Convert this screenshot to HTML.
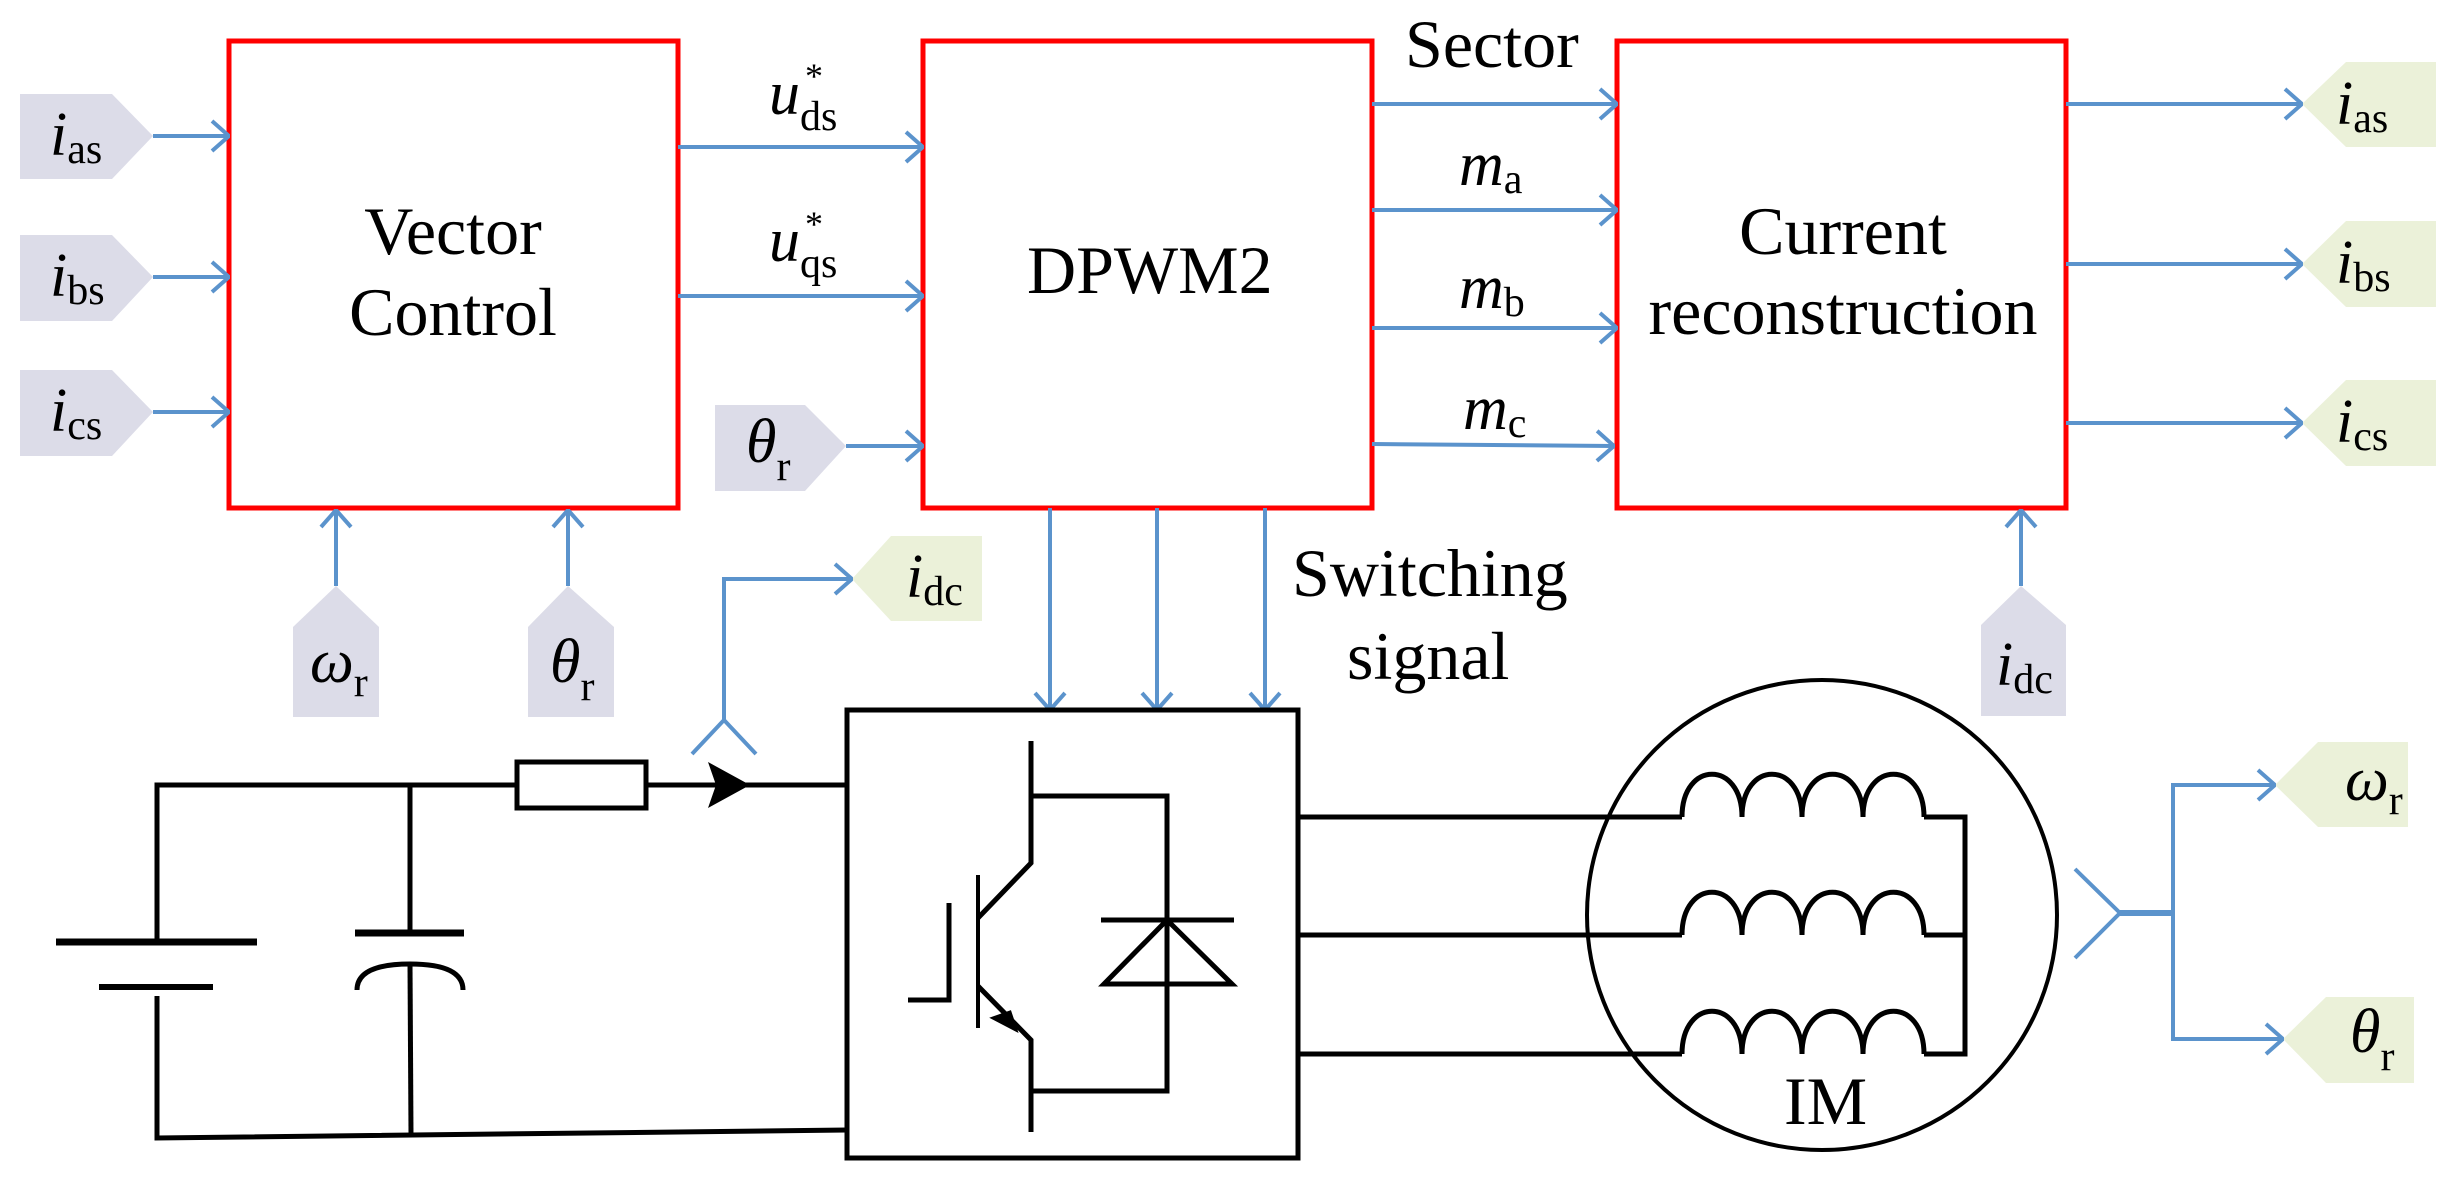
<!DOCTYPE html>
<html><head><meta charset="utf-8"><style>
html,body{margin:0;padding:0;background:#fff;}
svg{display:block;}
svg text{font-family:"Liberation Serif","DejaVu Serif","Times New Roman",serif !important;fill:#000;}
.v{font-style:italic;font-size:62px;}
.s{font-size:42px;font-style:normal;}
.L{font-size:68px;}
</style></head><body>
<svg width="2462" height="1179" viewBox="0 0 2462 1179" xmlns="http://www.w3.org/2000/svg" font-family="Liberation Serif, DejaVu Serif, serif">
<defs>
<marker id="a" viewBox="0 0 20 34" refX="19" refY="17" markerWidth="20" markerHeight="34" markerUnits="userSpaceOnUse" orient="auto">
<path d="M2,2 L19,17 L2,32" fill="none" stroke="#5b93cc" stroke-width="4"/>
</marker>
</defs>
<g fill="none" stroke="#ff0000" stroke-width="5">
<rect x="229" y="41" width="449" height="467"/>
<rect x="923" y="41" width="449" height="467"/>
<rect x="1617" y="41" width="449" height="467"/>
</g>
<g fill="#dcdce8">
<polygon points="20,94 112,94 153,136 112,179 20,179"/>
<polygon points="20,235 112,235 153,277 112,321 20,321"/>
<polygon points="20,370 112,370 153,412 112,456 20,456"/>
<polygon points="715,405 805,405 846,446 805,491 715,491"/>
<polygon points="293,717 293,627 336,586 379,627 379,717"/>
<polygon points="528,717 528,627 568,586 614,627 614,717"/>
<polygon points="1981,716 1981,625 2021,586 2066,625 2066,716"/>
</g>
<g fill="#ebf1d9">
<polygon points="852,579 891,536 982,536 982,621 891,621"/>
<polygon points="2302,104 2346,62 2436,62 2436,147 2346,147"/>
<polygon points="2302,264 2346,221 2436,221 2436,307 2346,307"/>
<polygon points="2302,423 2346,380 2436,380 2436,466 2346,466"/>
<polygon points="2275,785 2318,742 2408,742 2408,827 2318,827"/>
<polygon points="2283,1039 2326,997 2414,997 2414,1083 2326,1083"/>
</g>
<g stroke="#5b93cc" stroke-width="4" fill="none" marker-end="url(#a)">
<line x1="153" y1="136" x2="229" y2="136"/>
<line x1="153" y1="277" x2="229" y2="277"/>
<line x1="153" y1="412" x2="229" y2="412"/>
<line x1="678" y1="147" x2="923" y2="147"/>
<line x1="678" y1="296" x2="923" y2="296"/>
<line x1="846" y1="446" x2="923" y2="446"/>
<line x1="336" y1="586" x2="336" y2="510"/>
<line x1="568" y1="586" x2="568" y2="510"/>
<line x1="2021" y1="586" x2="2021" y2="510"/>
<line x1="1372" y1="104" x2="1617" y2="104"/>
<line x1="1372" y1="210" x2="1617" y2="210"/>
<line x1="1372" y1="328" x2="1617" y2="328"/>
<line x1="1372" y1="444" x2="1614" y2="446"/>
<line x1="2066" y1="104" x2="2302" y2="104"/>
<line x1="2066" y1="264" x2="2302" y2="264"/>
<line x1="2066" y1="423" x2="2302" y2="423"/>
<line x1="1050" y1="508" x2="1050" y2="710"/>
<line x1="1157" y1="508" x2="1157" y2="710"/>
<line x1="1265" y1="508" x2="1265" y2="710"/>
<polyline points="724,720 724,579 852,579"/>
<polyline points="2173,913 2173,785 2275,785"/>
<polyline points="2173,913 2173,1039 2283,1039"/>
</g>
<g stroke="#5b93cc" stroke-width="4" fill="none">
<polyline points="692,754 724,720 756,754"/>
<polyline points="2075,869 2120,913 2075,958"/>
<line x1="2120" y1="913" x2="2173" y2="913" stroke-width="6"/>
</g>
<g stroke="#000" stroke-width="5" fill="none">
<polyline points="847,785 157,785 157,942"/>
<line x1="56" y1="942" x2="257" y2="942" stroke-width="7"/>
<line x1="99" y1="987" x2="213" y2="987" stroke-width="6"/>
<polyline points="157,996 157,1138 847,1130"/>
<line x1="410" y1="785" x2="410" y2="933"/>
<line x1="355" y1="933" x2="464" y2="933" stroke-width="7"/>
<path d="M357,990 Q357,964 410,964 Q463,964 463,990"/>
<line x1="410" y1="964" x2="411" y2="1134"/>
<rect x="517" y="762" width="129" height="46" fill="#fff"/>
<rect x="847" y="710" width="451" height="448" stroke-width="5"/>
<polyline points="1031,741 1031,863 978,918"/>
<line x1="978" y1="875" x2="978" y2="1028" stroke-width="4"/>
<polyline points="908,1000 949,1000 949,903"/>
<polyline points="978,986 1031,1040 1031,1132"/>
<polyline points="1031,796 1167,796 1167,1091 1031,1091"/>
<line x1="1101" y1="920" x2="1234" y2="920"/>
<polygon points="1167,920 1104,984 1232,984"/>
<line x1="1298" y1="817" x2="1682" y2="817"/>
<line x1="1298" y1="935" x2="1682" y2="935"/>
<line x1="1298" y1="1054" x2="1682" y2="1054"/>
<polyline points="1924,817 1965,817 1965,1054 1924,1054"/>
<line x1="1924" y1="935" x2="1965" y2="935"/>
<circle cx="1822" cy="915" r="235" stroke-width="4"/>
</g>
<g stroke="#000" stroke-width="5" fill="none">
<path d="M1682,817 C1682,760 1742,760 1742,817 C1742,760 1802,760 1802,817 C1802,760 1863,760 1863,817 C1863,760 1924,760 1924,817"/>
<path d="M1682,935 C1682,878 1742,878 1742,935 C1742,878 1802,878 1802,935 C1802,878 1863,878 1863,935 C1863,878 1924,878 1924,935"/>
<path d="M1682,1054 C1682,997 1742,997 1742,1054 C1742,997 1802,997 1802,1054 C1802,997 1863,997 1863,1054 C1863,997 1924,997 1924,1054"/>
</g>
<polygon points="708,762 750,785 708,808 716,785" fill="#000"/>
<polygon points="1016,1030 993,1018 1010,1012" fill="#000" stroke="#000" stroke-width="3"/>
<g font-family="Liberation Serif, DejaVu Serif, serif">
<text class="L" x="453" y="254" text-anchor="middle">Vector</text>
<text class="L" x="453" y="335" text-anchor="middle">Control</text>
<text class="L" x="1027" y="293">DPWM2</text>
<text class="L" x="1843" y="254" text-anchor="middle">Current</text>
<text class="L" x="1843" y="334" text-anchor="middle">reconstruction</text>
<text class="L" x="1405" y="67">Sector</text>
<text class="L" x="1292" y="596">Switching</text>
<text class="L" x="1347" y="679">signal</text>
<text class="L" x="1784" y="1124">IM</text>
<text class="v" x="50" y="155">i<tspan class="s" dy="8">as</tspan></text>
<text class="v" x="50" y="296">i<tspan class="s" dy="8">bs</tspan></text>
<text class="v" x="50" y="431">i<tspan class="s" dy="8">cs</tspan></text>
<text class="v" x="2336" y="124">i<tspan class="s" dy="8">as</tspan></text>
<text class="v" x="2336" y="283">i<tspan class="s" dy="8">bs</tspan></text>
<text class="v" x="2336" y="442">i<tspan class="s" dy="8">cs</tspan></text>
<text class="v" x="906" y="597">i<tspan class="s" dy="8">dc</tspan></text>
<text class="v" x="1996" y="685">i<tspan class="s" dy="8">dc</tspan></text>
<text class="v" x="746" y="462">θ<tspan class="s" dy="18">r</tspan></text>
<text class="v" x="550" y="682">θ<tspan class="s" dy="18">r</tspan></text>
<text class="v" x="310" y="682">ω<tspan class="s" dy="14">r</tspan></text>
<text class="v" x="2345" y="800">ω<tspan class="s" dy="14">r</tspan></text>
<text class="v" x="2350" y="1052">θ<tspan class="s" dy="18">r</tspan></text>
<text class="v" x="769" y="114">u<tspan class="s" dy="16">ds</tspan></text>
<text x="805" y="88" style="font-size:36px">*</text>
<text class="v" x="769" y="261">u<tspan class="s" dy="16">qs</tspan></text>
<text x="805" y="236" style="font-size:36px">*</text>
<text class="v" x="1459" y="185">m<tspan class="s" dy="8">a</tspan></text>
<text class="v" x="1459" y="308">m<tspan class="s" dy="8">b</tspan></text>
<text class="v" x="1463" y="429">m<tspan class="s" dy="8">c</tspan></text>
</g>
</svg>
</body></html>
